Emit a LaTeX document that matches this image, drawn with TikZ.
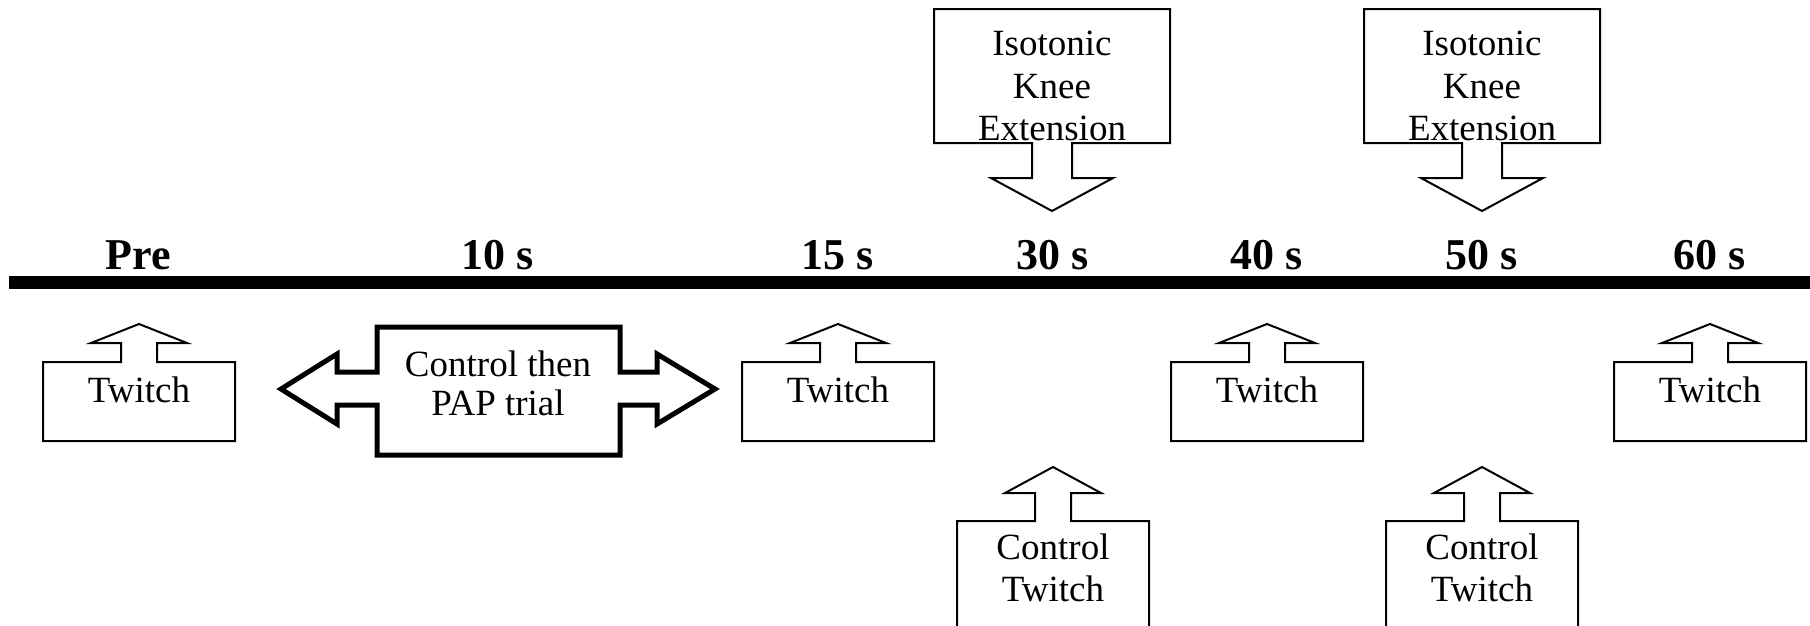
\documentclass[tikz,border=0pt]{standalone}
\usepackage{fontspec}
\setmainfont{Liberation Serif}
\newcommand\UpCall[6]{% #1 cx, #2 tip y, #3 head base y, #4 box top, #5 box bottom, #6 half width
  \draw[thinbox] ({#1-#6},#5) -- ({#1-#6},#4) -- ({#1-18},#4) -- ({#1-18},#3) -- ({#1-48},#3)
    -- (#1,#2) -- ({#1+48},#3) -- ({#1+18},#3) -- ({#1+18},#4) -- ({#1+#6},#4) -- ({#1+#6},#5) -- cycle;}
\newcommand\DownCall[1]{% #1 cx
  \draw[thinbox] ({#1-118},9) -- ({#1+118},9) -- ({#1+118},143) -- ({#1+20},143) -- ({#1+20},178)
    -- ({#1+61},178) -- (#1,211) -- ({#1-61},178) -- ({#1-20},178) -- ({#1-20},143) -- ({#1-118},143) -- cycle;}
\tikzset{
  thinbox/.style={draw=black, line width=2pt, line join=miter},
  thickbox/.style={draw=black, line width=5pt, line join=miter},
  timelbl/.style={anchor=base, inner sep=0pt, font=\bfseries\fontsize{44}{50}\selectfont},
  boxtxt/.style={anchor=base, inner sep=0pt, font=\fontsize{37}{42}\selectfont},
  mltxt/.style={anchor=center, inner sep=0pt, align=center},
}
\begin{document}
\begin{tikzpicture}[x=1pt, y=-1pt]
\useasboundingbox (0,0) rectangle (1810,625);
\clip (0,0) rectangle (1810,625);
\fill[white] (0,0) rectangle (1810,625);
% timeline
\coordinate (tlA) at (9,282.5);
\coordinate (tlB) at (1812,282.5);
\draw[line width=13pt] (tlA) -- (tlB);
% time labels
\node[timelbl] (tPre) at (138,269) {Pre};
\node[timelbl] (t10) at (498,269) {10 s};
\node[timelbl] (t15) at (838,269) {15 s};
\node[timelbl] (t30) at (1053,269) {30 s};
\node[timelbl] (t40) at (1267,269) {40 s};
\node[timelbl] (t50) at (1482,269) {50 s};
\node[timelbl] (t60) at (1710,269) {60 s};
% twitch callouts
\UpCall{139}{324}{343}{362}{441}{96}
\UpCall{838}{324}{343}{362}{441}{96}
\UpCall{1267}{324}{343}{362}{441}{96}
\UpCall{1710}{324}{343}{362}{441}{96}
\node[boxtxt] (twPre) at (139,402) {Twitch};
\node[boxtxt] (tw15) at (838,402) {Twitch};
\node[boxtxt] (tw40) at (1267,402) {Twitch};
\node[boxtxt] (tw60) at (1710,402) {Twitch};
% control then PAP trial double arrow
\draw[thickbox] (377,327) -- (620,327) -- (620,372) -- (657,372) -- (657,354) -- (715,389)
  -- (657,424) -- (657,405) -- (620,405) -- (620,455) -- (377,455) -- (377,405) -- (337,405)
  -- (337,424) -- (281,389) -- (337,354) -- (337,372) -- (377,372) -- cycle;
\node[mltxt, font=\fontsize{37}{39}\selectfont] (pap) at (498,383) {Control then\\PAP trial};
% isotonic knee extension callouts
\DownCall{1052}
\DownCall{1482}
\node[mltxt, font=\fontsize{37}{42.5}\selectfont] (iso1) at (1052,86) {Isotonic\\Knee\\Extension};
\node[mltxt, font=\fontsize{37}{42.5}\selectfont] (iso2) at (1482,86) {Isotonic\\Knee\\Extension};
% control twitch callouts
\UpCall{1053}{467}{493}{521}{640}{96}
\UpCall{1482}{467}{493}{521}{640}{96}
\node[mltxt, font=\fontsize{37}{42}\selectfont] (ct1) at (1053,568) {Control\\Twitch};
\node[mltxt, font=\fontsize{37}{42}\selectfont] (ct2) at (1482,568) {Control\\Twitch};
\end{tikzpicture}
\end{document}
